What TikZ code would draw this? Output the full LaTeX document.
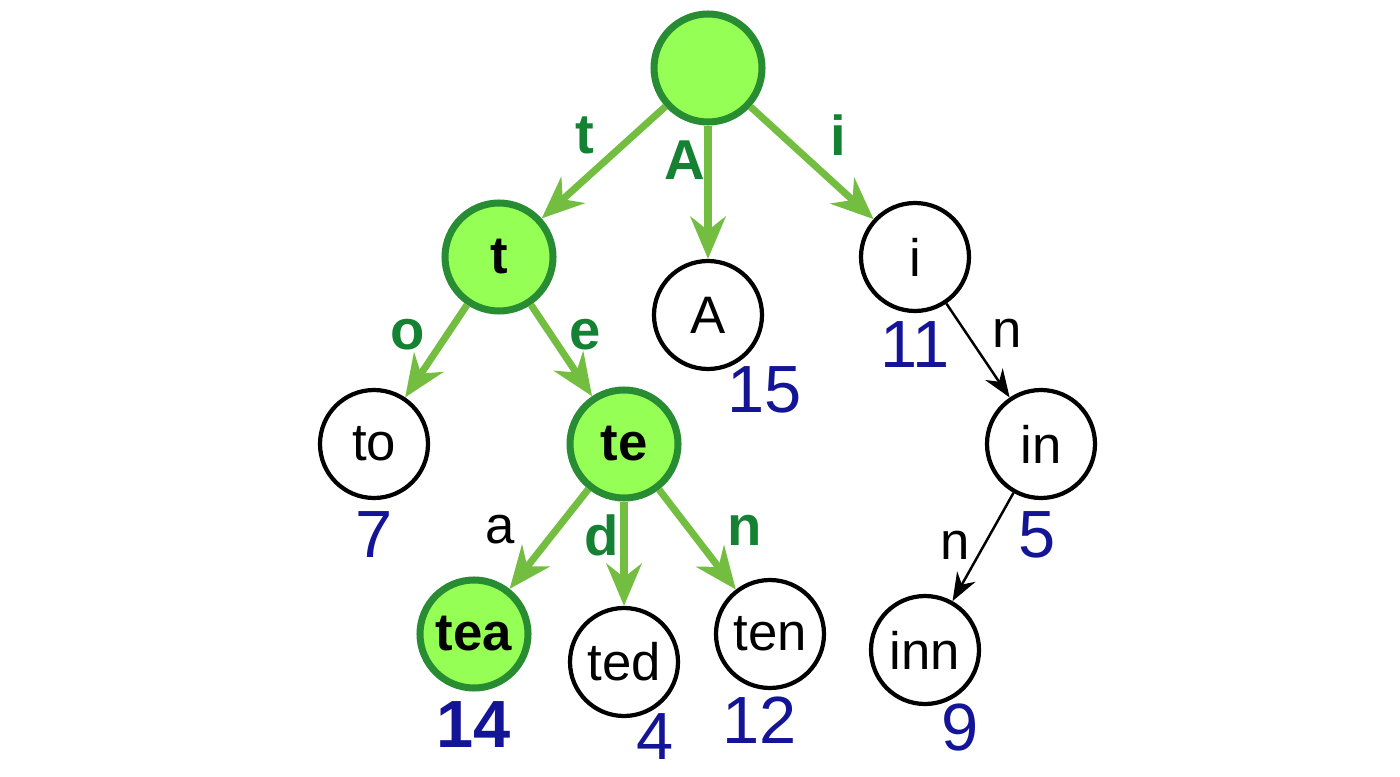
\documentclass[tikz,border=0pt]{standalone}
\usepackage{fontspec}
\setmainfont{Liberation Sans}
\usetikzlibrary{arrows.meta}
\definecolor{leafgreen}{RGB}{150,255,85}
\definecolor{rimgreen}{RGB}{40,140,50}
\definecolor{pathgreen}{RGB}{115,190,65}
\definecolor{labgreen}{RGB}{20,130,50}
\definecolor{numblue}{RGB}{20,20,150}
\tikzset{
  trienode/.style={circle, draw=black, line width=1.2pt, minimum size=1.08cm, inner sep=0pt, font=\fontsize{15}{15}\selectfont},
  hotnode/.style={trienode, fill=leafgreen, draw=rimgreen, line width=2pt, font=\fontsize{15}{15}\selectfont\bfseries},
  hotedge/.style={draw=pathgreen, line width=2pt, -{Stealth[length=12pt,width=10pt]}},
  thinedge/.style={draw=black, line width=0.7pt, -{Stealth[length=8pt,width=6pt]}},
  hotlab/.style={text=labgreen, font=\fontsize{16}{16}\selectfont\bfseries},
  thinlab/.style={font=\fontsize{15}{15}\selectfont},
  keynum/.style={text=numblue, font=\fontsize{19}{19}\selectfont}
}
\begin{document}
\begin{tikzpicture}
  \useasboundingbox (0,0) rectangle (14,7.76);
  % nodes
  \node[hotnode] (root) at (7.08,7.08) {};
  \node[hotnode] (t) at (4.99,5.19) {t};
  \node[trienode] (A) at (7.08,4.61) {A};
  \node[trienode] (i) at (9.15,5.19) {i};
  \node[trienode] (to) at (3.74,3.32) {to};
  \node[hotnode] (te) at (6.24,3.32) {te};
  \node[trienode] (in) at (10.41,3.32) {in};
  \node[hotnode] (tea) at (4.74,1.42) {tea};
  \node[trienode] (ted) at (6.24,1.14) {ted};
  \node[trienode] (ten) at (7.70,1.42) {ten};
  \node[trienode] (inn) at (9.25,1.26) {inn};
  % values
  \node[keynum] (n7) at (3.74,2.41) {7};
  \node[keynum] (n15) at (7.65,3.86) {15};
  \node[keynum] (n11) at (9.15,4.31) {11};
  \node[keynum] (n5) at (10.37,2.41) {5};
  \node[keynum, font=\fontsize{19}{19}\selectfont\bfseries] (n14) at (4.74,0.51) {14};
  \node[keynum] (n4) at (6.55,0.39) {4};
  \node[keynum] (n12) at (7.60,0.56) {12};
  \node[keynum] (n9) at (9.60,0.48) {9};
  % edges
  \draw[hotedge] (root) -- (t);
  \draw[hotedge] (root) -- (A);
  \draw[hotedge] (root) -- (i);
  \draw[hotedge] (t) -- (to);
  \draw[hotedge] (t) -- (te);
  \draw[hotedge] (te) -- (tea);
  \draw[hotedge] (te) -- (ted);
  \draw[hotedge] (te) -- (ten);
  \draw[thinedge] (i) -- (in);
  \draw[thinedge] (in) -- (inn);
  % labels
  \node[hotlab] (lt) at (5.85,6.41) {t};
  \node[hotlab] (lA) at (6.85,6.16) {A};
  \node[hotlab] (li) at (8.38,6.41) {i};
  \node[hotlab] (lo) at (4.08,4.41) {o};
  \node[hotlab] (le) at (5.85,4.41) {e};
  \node[thinlab] (la) at (5.00,2.46) {a};
  \node[hotlab] (ld) at (6.02,2.41) {d};
  \node[hotlab] (ln) at (7.45,2.46) {n};
  \node[thinlab] (lin) at (10.07,4.43) {n};
  \node[thinlab] (linn) at (9.55,2.31) {n};
\end{tikzpicture}
\end{document}
